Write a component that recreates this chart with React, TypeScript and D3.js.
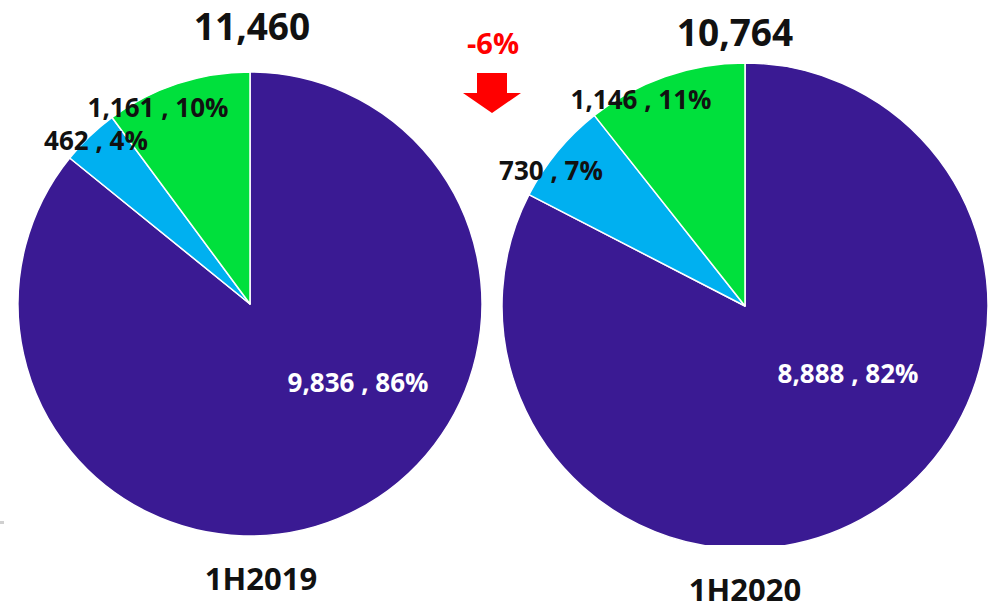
import React from "react";
import * as d3 from "d3";

const categories = ["Category A", "Category B", "Category C"];
const periods = ["1H2019", "1H2020"];
const totals = ["11,460", "10,764"];
const values2019 = [9836, 462, 1161];
const values2020 = [8888, 730, 1146];
const pct2019 = ["86%", "4%", "10%"];
const pct2020 = ["82%", "7%", "11%"];
const changeLabel = "-6%";

const colors = ["#3a1a93", "#00b0f0", "#00e03c"];
const labelColors = ["#ffffff", "#111111", "#111111"];

// layout (pixel placement only)
const pieLayout = [
  { cx: 250, cy: 304, r: 232, clipBottom: 610, titleX: 252, titleY: 40, catX: 261, catY: 590,
    labels: [[358, 392], [96, 150], [158, 117]] },
  { cx: 745, cy: 306, r: 243, clipBottom: 545, titleX: 735, titleY: 46, catX: 745, catY: 601,
    labels: [[848, 383], [551, 180], [641, 109]] },
];

const FONT = "'Open Sans', 'Liberation Sans', sans-serif";

function Pie({ values, pcts, idx }: { values: number[]; pcts: string[]; idx: number }) {
  const L = pieLayout[idx];
  const pie = d3.pie<number>().sort(null).startAngle(0).endAngle(2 * Math.PI);
  const arcs = pie(values);
  const arc = d3.arc<d3.PieArcDatum<number>>().innerRadius(0).outerRadius(L.r);
  const fmt = d3.format(",");
  const clipId = `clip-${idx}`;
  return (
    <g>
      <defs>
        <clipPath id={clipId} clipPathUnits="userSpaceOnUse">
          <rect x={0} y={0} width={990} height={L.clipBottom} />
        </clipPath>
      </defs>
      <g clipPath={`url(#${clipId})`}>
        <g transform={`translate(${L.cx},${L.cy})`}>
          {arcs.map((a, i) => (
            <path key={categories[i]} d={arc(a) || ""} fill={colors[i]} stroke="#ffffff" strokeWidth={1.5} strokeLinejoin="round" />
          ))}
        </g>
      </g>
      {arcs.map((a, i) => (
        <text
          key={"l" + i}
          x={L.labels[i][0]}
          y={L.labels[i][1]}
          textAnchor="middle"
          fontFamily={FONT}
          fontWeight={700}
          fontSize={26}
          fill={labelColors[i]}
        >
          {`${fmt(a.data)} , ${pcts[i]}`}
        </text>
      ))}
      <text x={L.titleX} y={L.titleY} textAnchor="middle" fontFamily={FONT} fontWeight={700} fontSize={37} fill="#111">
        {totals[idx]}
      </text>
      <text x={L.catX} y={L.catY} textAnchor="middle" fontFamily={FONT} fontWeight={700} fontSize={31} fill="#111">
        {periods[idx]}
      </text>
    </g>
  );
}

export default function App() {
  const arrow = d3.path();
  arrow.moveTo(477, 73);
  arrow.lineTo(507, 73);
  arrow.lineTo(507, 93);
  arrow.lineTo(521, 93);
  arrow.lineTo(492, 113);
  arrow.lineTo(463, 93);
  arrow.lineTo(477, 93);
  arrow.closePath();
  return (
    <svg width={990} height={610} style={{ position: "absolute", left: 0, top: 0, background: "#fff" }}>
      <rect x={0} y={0} width={990} height={610} fill="#ffffff" />
      <Pie values={values2019} pcts={pct2019} idx={0} />
      <Pie values={values2020} pcts={pct2020} idx={1} />
      <text x={493} y={54} textAnchor="middle" fontFamily={FONT} fontWeight={700} fontSize={29} fill="#ff0000">
        {changeLabel}
      </text>
      <path d={arrow.toString()} fill="#ff0000" />
      <rect x={0} y={521} width={4} height={3} fill="#d0d0d0" />
    </svg>
  );
}
